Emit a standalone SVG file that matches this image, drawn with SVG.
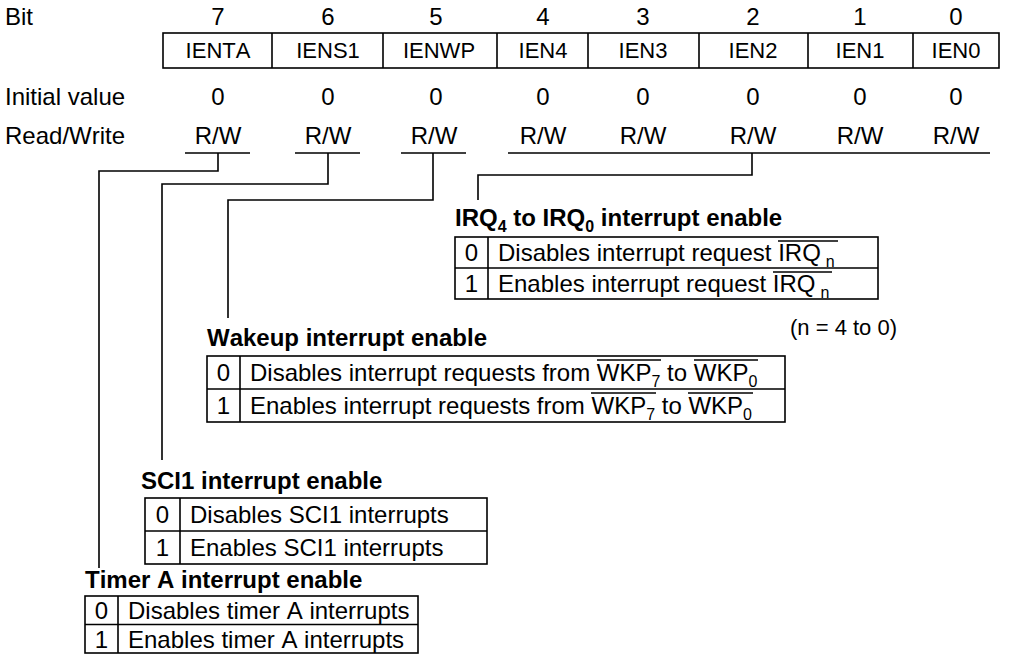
<svg xmlns="http://www.w3.org/2000/svg" width="1022" height="659" viewBox="0 0 1022 659">
<style>
text{font-family:"Liberation Sans",Arial,sans-serif;font-size:24px;fill:#000;font-kerning:none}
.c{text-anchor:middle}
.reg{font-size:22px}
.b{font-weight:bold}
.s{font-size:16px}
.ln{fill:none;stroke:#000;stroke-width:1.6}
.ol{stroke:#000;stroke-width:1.4}
</style>
<rect width="1022" height="659" fill="#fff"/>
<g id="register">
<text x="5" y="25">Bit</text>
<text class="c" x="218" y="25">7</text><text class="c" x="328" y="25">6</text><text class="c" x="436" y="25">5</text><text class="c" x="543" y="25">4</text><text class="c" x="643" y="25">3</text><text class="c" x="753" y="25">2</text><text class="c" x="860" y="25">1</text><text class="c" x="956" y="25">0</text>
<rect class="ln" x="163" y="33" width="836" height="35"/>
<path class="ln" d="M272 33V68M383 33V68M497 33V68M588 33V68M699 33V68M808 33V68M913 33V68"/>
<text class="c reg" x="218" y="58">IENTA</text><text class="c reg" x="328" y="58">IENS1</text><text class="c reg" x="439" y="58">IENWP</text><text class="c reg" x="543" y="58">IEN4</text><text class="c reg" x="643" y="58">IEN3</text><text class="c reg" x="753" y="58">IEN2</text><text class="c reg" x="860" y="58">IEN1</text><text class="c reg" x="956" y="58">IEN0</text>
<text x="5" y="105">Initial value</text>
<text class="c" x="218" y="105">0</text><text class="c" x="328" y="105">0</text><text class="c" x="436" y="105">0</text><text class="c" x="543" y="105">0</text><text class="c" x="643" y="105">0</text><text class="c" x="753" y="105">0</text><text class="c" x="860" y="105">0</text><text class="c" x="956" y="105">0</text>
<text x="5" y="144">Read/Write</text>
<text class="c" x="218" y="144">R/W</text><text class="c" x="328" y="144">R/W</text><text class="c" x="434" y="144">R/W</text><text class="c" x="543" y="144">R/W</text><text class="c" x="643" y="144">R/W</text><text class="c" x="753" y="144">R/W</text><text class="c" x="860" y="144">R/W</text><text class="c" x="956" y="144">R/W</text>
</g>
<g id="connectors">
<path class="ln" d="M185 153H250M295 153H360M401 153H466M508 153H990"/>
<path class="ln" d="M218 153V171H99V568"/>
<path class="ln" d="M328 153V184H162V460"/>
<path class="ln" d="M433 153V200H228V318"/>
<path class="ln" d="M752 153V175H478V200"/>
</g>
<g id="irq">
<text class="b" x="455" y="226">IRQ<tspan class="s" dy="6">4</tspan><tspan dy="-6"> to IRQ</tspan><tspan class="s" dy="6">0</tspan><tspan dy="-6"> interrupt enable</tspan></text>
<rect class="ln" x="455" y="237" width="423" height="62"/>
<path class="ln" d="M455 268H878M488 237V299"/>
<text class="c" x="471.5" y="261">0</text>
<text x="498" y="261">Disables interrupt request IRQ<tspan class="s" dx="5" dy="6">n</tspan></text>
<line class="ol" x1="778" y1="241" x2="838" y2="241"/>
<text class="c" x="471.5" y="292">1</text>
<text x="498" y="292">Enables interrupt request IRQ<tspan class="s" dx="5" dy="6">n</tspan></text>
<line class="ol" x1="773" y1="272" x2="832" y2="272"/>
<text x="790" y="335" style="font-size:22px">(n = 4 to 0)</text>
</g>
<g id="wakeup">
<text class="b" x="207" y="346">Wakeup interrupt enable</text>
<rect class="ln" x="207" y="356" width="578" height="66"/>
<path class="ln" d="M207 389H785M240 356V422"/>
<text class="c" x="223.5" y="381">0</text>
<text x="250" y="381">Disables interrupt requests from WKP<tspan class="s" dy="6">7</tspan><tspan dy="-6"> to WKP</tspan><tspan class="s" dy="6">0</tspan></text>
<line class="ol" x1="597" y1="360" x2="661" y2="360"/><line class="ol" x1="694" y1="360" x2="758" y2="360"/>
<text class="c" x="223.5" y="414">1</text>
<text x="250" y="414">Enables interrupt requests from WKP<tspan class="s" dy="6">7</tspan><tspan dy="-6"> to WKP</tspan><tspan class="s" dy="6">0</tspan></text>
<line class="ol" x1="591" y1="393" x2="656" y2="393"/><line class="ol" x1="688" y1="393" x2="753" y2="393"/>
</g>
<g id="sci1">
<text class="b" x="141" y="489">SCI1 interrupt enable</text>
<rect class="ln" x="145" y="498" width="342" height="66"/>
<path class="ln" d="M145 531H487M180 498V564"/>
<text class="c" x="162.5" y="523">0</text>
<text x="190" y="523">Disables SCI1 interrupts</text>
<text class="c" x="162.5" y="556">1</text>
<text x="190" y="556">Enables SCI1 interrupts</text>
</g>
<g id="timerA">
<text class="b" x="85" y="588">Timer A interrupt enable</text>
<rect class="ln" x="85" y="596" width="333" height="57"/>
<path class="ln" d="M85 624.5H418M118 596V653"/>
<text class="c" x="101.5" y="619">0</text>
<text x="128" y="619">Disables timer A interrupts</text>
<text class="c" x="101.5" y="648">1</text>
<text x="128" y="648">Enables timer A interrupts</text>
</g>
</svg>
